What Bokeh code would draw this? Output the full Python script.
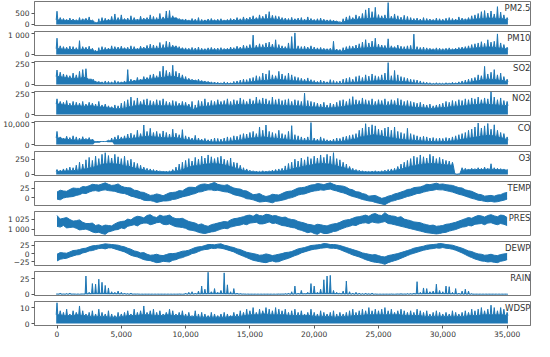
from bokeh.plotting import figure
from bokeh.layouts import column
from bokeh.models import Range1d, Label, FixedTicker
from bokeh.embed import file_html
from bokeh.resources import INLINE

# ---------------- data (hourly index) ----------------
HOURS_FINE = list(range(0, 35001, 250))     # every 250 h
HOURS_COARSE = list(range(0, 35001, 500))   # every 500 h

PM25_PEAK = [580, 300, 260, 220, 280, 240, 210, 300, 250, 270,
             330, 190, 90, 250, 300, 270, 230, 350, 460, 300,
             420, 260, 280, 380, 300, 240, 360, 280, 300, 420,
             350, 300, 480, 330, 590, 610, 380, 300, 260, 220,
             240, 200, 260, 230, 300, 220, 200, 240, 260, 210,
             230, 250, 200, 220, 260, 240, 300, 250, 330, 280,
             320, 380, 300, 420, 360, 450, 560, 400, 380, 350,
             300, 280, 260, 310, 250, 280, 300, 240, 330, 260,
             220, 250, 280, 230, 200, 210, 190, 150, 130, 250,
             330, 380, 300, 420, 360, 480, 640, 720, 560, 750,
             430, 380, 420, 957, 360, 460, 380, 320, 400, 350,
             300, 260, 280, 240, 300, 260, 240, 220, 280, 250,
             230, 270, 300, 260, 240, 330, 280, 250, 300, 380,
             420, 480, 560, 610, 500, 590, 460, 780, 540, 420,
             300]
PM25_LEVEL = [200, 180, 170, 160, 190, 170, 80, 150, 180, 190,
              200, 180, 190, 200, 210, 200, 230, 260, 280, 200,
              160, 150, 140, 150, 160, 150, 160, 170, 180, 190,
              210, 230, 240, 250, 220, 190, 170, 180, 160, 170,
              150, 150, 140, 130, 90, 180, 220, 240, 260, 280,
              260, 250, 240, 200, 180, 170, 160, 150, 160, 150,
              150, 160, 170, 190, 200, 240, 260, 280, 270, 250,
              200]

PM10_PEAK = [790, 420, 380, 350, 400, 380, 330, 670, 380, 350,
             400, 300, 200, 330, 380, 340, 310, 420, 380, 360,
             400, 330, 350, 420, 380, 300, 400, 360, 440, 500,
             460, 420, 580, 480, 640, 600, 450, 420, 380, 330,
             320, 300, 340, 310, 360, 300, 280, 320, 340, 300,
             310, 330, 290, 300, 360, 330, 400, 360, 450, 420,
             480, 940, 450, 520, 480, 560, 600, 500, 715, 480,
             420, 380, 560, 870, 1050, 420, 380, 400, 360, 420,
             360, 320, 340, 300, 280, 300, 640, 260, 240, 330,
             380, 420, 400, 460, 520, 600, 720, 560, 650, 790,
             500, 460, 440, 760, 420, 380, 460, 400, 380, 420,
             440, 990, 380, 340, 360, 320, 300, 280, 320, 300,
             280, 300, 320, 280, 300, 340, 360, 380, 420, 480,
             520, 560, 620, 540, 715, 600, 640, 1000, 560, 480,
             350]
PM10_LEVEL = [280, 250, 240, 230, 250, 230, 140, 220, 240, 250,
              260, 240, 250, 270, 280, 280, 300, 330, 350, 260,
              220, 210, 200, 210, 220, 210, 230, 240, 260, 270,
              300, 320, 330, 340, 300, 280, 260, 260, 240, 250,
              230, 220, 210, 200, 160, 240, 280, 300, 330, 350,
              320, 300, 300, 260, 240, 230, 220, 210, 220, 210,
              210, 220, 240, 260, 280, 320, 340, 360, 340, 300,
              250]

SO2_PEAK = [165, 140, 120, 110, 100, 130, 110, 150, 170, 180,
            60, 45, 40, 35, 30, 40, 35, 30, 45, 35,
            30, 40, 170, 60, 50, 80, 60, 90, 80, 110,
            120, 100, 150, 210, 160, 140, 220, 150, 130, 110,
            90, 70, 60, 50, 60, 45, 40, 35, 30, 28,
            25, 20, 30, 25, 20, 35, 40, 50, 60, 55,
            70, 80, 100, 90, 130, 120, 160, 110, 100, 150,
            120, 100, 130, 110, 90, 80, 70, 60, 75, 55,
            45, 35, 50, 40, 30, 55, 45, 35, 40, 60,
            70, 80, 60, 90, 100, 80, 110, 95, 120, 100,
            90, 110, 130, 250, 100, 160, 110, 90, 80, 70,
            60, 55, 50, 40, 30, 25, 20, 15, 20, 18,
            15, 20, 18, 25, 20, 30, 40, 50, 60, 70,
            80, 110, 100, 207, 120, 140, 170, 110, 130, 90,
            60]
SO2_LEVEL = [90, 80, 70, 70, 80, 60, 25, 15, 15, 15,
             20, 30, 40, 50, 60, 70, 80, 90, 90, 70,
             50, 45, 35, 25, 15, 10, 8, 10, 15, 20,
             30, 40, 45, 55, 60, 50, 45, 40, 35, 30,
             20, 15, 15, 12, 12, 20, 25, 30, 35, 40,
             45, 45, 40, 35, 30, 20, 12, 8, 6, 6,
             6, 8, 10, 15, 25, 40, 55, 60, 55, 45,
             30]

NO2_PEAK = [180, 150, 140, 160, 130, 150, 140, 130, 150, 120,
            140, 130, 120, 150, 110, 120, 100, 90, 110, 100,
            130, 150, 170, 200, 160, 190, 150, 170, 180, 160,
            150, 170, 160, 180, 150, 140, 160, 150, 130, 150,
            140, 120, 150, 110, 160, 150, 180, 140, 160, 150,
            170, 150, 160, 180, 150, 170, 160, 190, 170, 150,
            180, 160, 200, 170, 190, 180, 160, 200, 170, 180,
            160, 170, 180, 150, 170, 160, 150, 245, 160, 150,
            140, 130, 120, 140, 110, 130, 120, 140, 160, 170,
            150, 180, 205, 170, 160, 190, 170, 160, 180, 150,
            170, 160, 180, 150, 170, 160, 185, 170, 150, 160,
            150, 140, 130, 140, 120, 110, 120, 100, 110, 120,
            130, 150, 140, 160, 150, 170, 160, 180, 170, 190,
            180, 200, 170, 190, 180, 260, 200, 170, 190, 160,
            150]
NO2_LEVEL = [120, 110, 100, 100, 95, 100, 90, 85, 75, 65,
             70, 90, 100, 110, 100, 105, 100, 100, 95, 100,
             95, 60, 90, 95, 100, 110, 110, 105, 115, 110,
             115, 120, 115, 110, 110, 105, 100, 100, 95, 90,
             85, 80, 75, 80, 90, 100, 110, 115, 110, 105,
             110, 105, 110, 100, 95, 85, 80, 75, 70, 75,
             80, 90, 95, 100, 110, 115, 120, 115, 110, 105,
             100]

CO_PEAK = [6000, 3500, 3000, 3800, 3200, 4000, 3500, 3000, 3600, 2800,
           3200, 2500, 1400, 1400, 1400, 1400, 2000, 3000, 3500, 4200,
           3500, 4000, 4800, 5200, 4500, 6500, 5000, 8900, 6000, 7400,
           5500, 6000, 5000, 6200, 5500, 4800, 7000, 5200, 4500, 6800,
           4000, 3500, 3000, 4200, 3000, 2500, 2800, 2200, 2500, 3000,
           2800, 2500, 3000, 3500, 3200, 4000, 3800, 4500, 5000, 4800,
           5500, 6000, 5000, 8000, 6500, 8900, 6000, 5500, 5000, 6500,
           5000, 4500, 6000, 8600, 4500, 4000, 3500, 3000, 3500, 10000,
           3000, 2500, 3500, 2800, 2200, 2000, 2500, 3000, 2800, 3500,
           3800, 4200, 4500, 5000, 6500, 7500, 9500, 8000, 9000, 8500,
           7000, 6500, 7500, 8000, 6500, 8000, 6000, 5500, 5000, 7400,
           5000, 4500, 4000, 3500, 3800, 3500, 3000, 3200, 2800, 3000,
           2800, 3200, 3000, 3500, 4000, 4500, 5000, 5500, 6500, 7000,
           8000, 9800, 7500, 8500, 9600, 7000, 9000, 6500, 5500, 5000,
           3500]
CO_LEVEL = [3000, 2500, 2200, 2000, 2300, 2100, 1400, 1400, 1800, 2200,
            2500, 2800, 3000, 3500, 3800, 3500, 3200, 3000, 3200, 2800,
            2200, 2000, 1800, 1500, 1200, 1200, 1300, 1600, 2000, 2500,
            3000, 3200, 3500, 3000, 2800, 2500, 2200, 2000, 1800, 1800,
            1600, 1500, 1400, 1300, 1500, 2000, 2500, 3500, 4000, 4500,
            4000, 3500, 3000, 2500, 2200, 2000, 1800, 1500, 1400, 1300,
            1400, 1600, 2000, 2500, 3000, 3500, 4000, 4200, 3800, 3000,
            2000]
CO_LOW = [100, 100, 100, 100, 100, 100, 800, 1300, 1100, 100,
          100, 100, 100, 100, 100, 100, 100, 100, 100, 100,
          100, 100, 100, 100, 100, 100, 100, 100, 100, 100,
          100, 100, 100, 100, 100, 100, 100, 100, 100, 100,
          100, 100, 100, 100, 100, 100, 100, 100, 100, 100,
          100, 100, 100, 100, 100, 100, 100, 100, 100, 100,
          100, 100, 100, 100, 100, 100, 100, 100, 100, 100,
          100]

O3_PEAK = [80, 70, 90, 100, 120, 110, 150, 200, 170, 240,
           280, 230, 300, 260, 330, 357, 310, 270, 330, 290,
           260, 300, 230, 250, 200, 180, 150, 120, 100, 90,
           80, 70, 60, 50, 55, 60, 80, 120, 170, 200,
           230, 260, 220, 280, 250, 300, 270, 320, 290, 260,
           280, 300, 250, 230, 270, 200, 190, 150, 110, 90,
           70, 60, 55, 50, 60, 55, 60, 70, 80, 90,
           100, 140, 180, 200, 250, 220, 270, 240, 290, 260,
           300, 270, 320, 280, 330, 300, 357, 260, 240, 200,
           170, 130, 100, 80, 70, 60, 55, 50, 55, 60,
           55, 60, 70, 80, 90, 100, 130, 170, 200, 230,
           260, 300, 280, 320, 290, 270, 330, 300, 260, 280,
           250, 230, 220, 200, 10, 10, 110, 100, 90, 100,
           95, 110, 100, 120, 100, 175, 110, 100, 95, 90,
           80]
O3_LEVEL = [50, 55, 60, 70, 90, 110, 140, 170, 180, 170,
            150, 130, 100, 80, 60, 50, 45, 40, 50, 70,
            110, 140, 150, 170, 180, 170, 150, 120, 90, 60,
            45, 40, 40, 45, 50, 60, 80, 110, 130, 150,
            170, 180, 170, 150, 120, 90, 60, 45, 40, 40,
            40, 45, 55, 80, 110, 140, 160, 170, 180, 170,
            160, 150, 5, 70, 75, 80, 80, 85, 80, 75,
            70]

TEMP_HIGH = [15, 20, 18, 17, 22, 26, 25, 25, 30, 29, 32, 36, 35, 34, 37, 40, 36, 33, 34, 37,
             31, 28, 27, 26, 20, 19, 15, 14, 10, 6, 7, 10, 8, 5, 9, 13, 14, 15, 19, 18,
             24, 28, 28, 27, 33, 36, 37, 35, 38, 41, 36, 34, 33, 35, 30, 26, 24, 23, 19, 18,
             13, 8, 9, 11, 6, 3, 5, 9, 8, 7, 11, 15, 17, 18, 22, 26, 27, 28, 31, 34,
             35, 38, 37, 35, 38, 40, 36, 33, 32, 31, 28, 23, 21, 16, 15, 11, 9, 4, 5, 6,
             2, -2, 0, 4, 6, 10, 12, 15, 18, 22, 23, 27, 28, 29, 32, 36, 35, 37, 39, 36,
             37, 35, 34, 33, 30, 27, 26, 21, 19, 17, 13, 9, 8, 4, 5, 6, 4, 7, 8, 12,
             14]
TEMP_LOW = [-4, -6, -1, 1, 2, 3, 6, 8, 12, 11, 15, 18, 19, 17, 20, 21, 19, 18, 17, 14,
            12, 11, 8, 4, 2, -1, -3, -7, -8, -8, -10, -13, -11, -9, -9, -8, -5, -4, -1, 2,
            4, 6, 9, 11, 15, 16, 19, 21, 21, 19, 20, 18, 16, 15, 12, 8, 6, 4, 1, -3,
            -4, -6, -9, -12, -11, -10, -12, -14, -10, -9, -7, -5, -2, 0, 3, 7, 9, 10, 13, 16,
            18, 19, 21, 20, 22, 23, 20, 18, 15, 13, 10, 6, 3, 1, -2, -5, -7, -9, -10, -13,
            -15, -17, -19, -14, -10, -8, -5, -3, 0, 3, 5, 8, 11, 12, 15, 17, 19, 20, 22, 21,
            21, 19, 17, 15, 12, 9, 7, 4, 1, -2, -4, -7, -8, -10, -11, -10, -12, -11, -9, -7,
            -4]

PRES_HIGH = [1035, 1026, 1028, 1030, 1025, 1021, 1022, 1024, 1018, 1015, 1015, 1016, 1010, 1012, 1008, 1011, 1010, 1009, 1014, 1018,
             1020, 1021, 1026, 1024, 1030, 1033, 1032, 1029, 1035, 1037, 1032, 1030, 1036, 1033, 1034, 1036, 1030, 1027, 1027, 1028,
             1024, 1020, 1018, 1016, 1012, 1014, 1010, 1008, 1012, 1014, 1016, 1018, 1020, 1019, 1024, 1027, 1028, 1030, 1032, 1035,
             1036, 1033, 1038, 1035, 1034, 1038, 1037, 1034, 1035, 1032, 1030, 1031, 1027, 1025, 1024, 1020, 1018, 1016, 1013, 1012,
             1010, 1013, 1012, 1010, 1009, 1012, 1014, 1015, 1018, 1022, 1024, 1025, 1028, 1031, 1032, 1034, 1036, 1033, 1038, 1040,
             1036, 1035, 1042, 1036, 1034, 1033, 1030, 1032, 1026, 1024, 1022, 1019, 1018, 1017, 1014, 1012, 1010, 1011, 1008, 1009,
             1010, 1013, 1014, 1016, 1018, 1021, 1024, 1027, 1030, 1028, 1032, 1035, 1034, 1031, 1035, 1037, 1034, 1032, 1036, 1035,
             1030]
PRES_LOW = [1008, 1006, 1010, 1004, 1005, 1006, 1003, 999, 1000, 1001, 998, 994, 992, 993, 990, 988, 994, 996, 999, 1000,
            1004, 1002, 1008, 1010, 1012, 1009, 1014, 1016, 1016, 1012, 1014, 1017, 1018, 1013, 1012, 1014, 1010, 1007, 1006, 1005,
            1003, 999, 998, 996, 993, 991, 990, 992, 994, 995, 998, 1001, 1003, 1002, 1006, 1008, 1010, 1011, 1014, 1012,
            1016, 1017, 1018, 1014, 1014, 1016, 1019, 1015, 1016, 1013, 1010, 1009, 1007, 1005, 1004, 1000, 998, 995, 992, 994,
            990, 988, 993, 990, 990, 992, 995, 996, 1000, 1003, 1006, 1008, 1011, 1010, 1014, 1016, 1017, 1015, 1019, 1017,
            1016, 1018, 1020, 1015, 1014, 1012, 1010, 1008, 1006, 1004, 1002, 1000, 998, 996, 994, 992, 991, 990, 989, 990,
            992, 993, 996, 998, 1000, 1003, 1006, 1007, 1010, 1009, 1013, 1014, 1015, 1012, 1016, 1017, 1014, 1012, 1015, 1013,
            1010]

DEWP_HIGH = [-2, 3, 2, 1, 5, 9, 10, 12, 15, 16, 20, 23, 24, 25, 27, 29, 28, 27, 26, 25,
             22, 20, 16, 13, 8, 6, 2, 3, -2, -5, -4, -2, -5, -6, -3, 0, 0, 1, 4, 7,
             8, 10, 14, 18, 20, 21, 24, 27, 27, 26, 28, 29, 25, 23, 20, 18, 14, 12, 8, 4,
             2, 0, -2, -5, -4, -1, -3, -6, -4, -2, 0, 3, 4, 6, 10, 14, 16, 18, 21, 24,
             25, 26, 27, 30, 29, 27, 27, 26, 24, 21, 18, 15, 12, 9, 6, 2, 0, -2, -4, -3,
             -6, -9, -10, -6, -4, -2, 0, 3, 6, 9, 12, 16, 18, 20, 22, 25, 26, 27, 28, 30,
             29, 27, 26, 25, 22, 19, 16, 12, 8, 6, 2, -1, -2, -5, -4, -2, -5, -6, -3, -1,
             0]
DEWP_LOW = [-22, -17, -15, -14, -10, -7, -4, -3, 2, 4, 8, 9, 12, 15, 16, 14, 17, 17, 14, 11,
            8, 5, 0, -5, -8, -10, -14, -18, -20, -21, -24, -27, -26, -23, -24, -25, -20, -18, -14, -12,
            -8, -5, 0, 2, 6, 10, 12, 13, 16, 15, 17, 16, 14, 11, 8, 5, 0, -4, -8, -12,
            -16, -20, -22, -24, -26, -27, -24, -22, -25, -24, -20, -17, -14, -10, -6, -3, 2, 5, 8, 11,
            13, 14, 16, 17, 18, 16, 16, 15, 12, 8, 4, 0, -4, -7, -10, -14, -18, -21, -24, -26,
            -27, -29, -32, -27, -24, -21, -18, -14, -10, -6, -2, 1, 4, 7, 10, 12, 14, 15, 17, 16,
            18, 16, 15, 13, 10, 6, 2, -3, -8, -12, -16, -19, -22, -23, -25, -24, -26, -27, -23, -21,
            -18]

RAIN_PEAK = [0.5, 2, 0.5, 1, 2, 0.5, 0, 0, 0.5, 29,
             3, 17, 16, 24, 19, 14, 10, 4, 3, 5,
             3, 2, 1, 2, 0.5, 0.5, 0, 0, 0, 0,
             0, 0, 0, 0, 0, 0, 0, 0, 0.5, 0,
             2, 3, 4, 2, 5, 13, 8, 35, 4, 9,
             3, 6, 34, 15, 4, 9, 2, 1, 0.5, 0,
             0, 0, 0, 0, 0, 0, 0, 0, 0, 0.5,
             0.5, 1, 2, 4, 13, 2, 6, 1, 3, 17,
             13, 3, 8, 23, 29, 30, 6, 3, 2, 5,
             21, 4, 2, 3, 2, 1, 2, 1, 2, 0.5,
             0, 0, 0, 0, 0.5, 0, 0.5, 1, 0.5, 1,
             1, 2, 20, 3, 10, 9, 4, 5, 16, 6,
             4, 13, 12, 3, 9, 2, 5, 8, 5, 1,
             0, 0, 0, 0, 0, 0, 0, 0, 0, 0,
             0]
RAIN_LEVEL = [0.3, 0.3, 0.3, 0.3, 0.5, 1, 1.5, 1.5, 1, 0.8,
              0.5, 0.3, 0.3, 0.2, 0.2, 0.2, 0.2, 0.2, 0.2, 0.2,
              0.3, 0.5, 0.8, 1, 1.5, 1.5, 1, 0.8, 0.5, 0.3,
              0.2, 0.2, 0.2, 0.2, 0.2, 0.3, 0.3, 0.5, 0.8, 1,
              1.5, 1.5, 1.5, 1, 0.8, 0.5, 0.3, 0.3, 0.2, 0.2,
              0.2, 0.2, 0.2, 0.3, 0.3, 0.5, 0.8, 1, 1.5, 1.5,
              1, 0.8, 0.5, 0.3, 0.2, 0.2, 0.2, 0.2, 0.2, 0.2,
              0.2]

WDSP_PEAK = [13, 8, 7, 9, 6, 8, 7, 11, 8, 6,
             7, 8, 6, 9, 7, 6, 8, 6, 5, 7,
             6, 7, 8, 6, 9, 7, 8, 11, 7, 8,
             9, 7, 8, 6, 7, 9, 8, 6, 7, 8,
             6, 7, 5, 8, 6, 7, 6, 5, 7, 6,
             5, 6, 7, 6, 5, 7, 6, 8, 7, 9,
             8, 10, 7, 9, 8, 10, 9, 8, 10, 9,
             8, 9, 7, 8, 9, 7, 8, 6, 7, 9,
             7, 6, 8, 7, 6, 7, 8, 6, 7, 6,
             7, 8, 9, 7, 8, 9, 8, 10, 8, 9,
             8, 9, 10, 8, 9, 7, 8, 9, 8, 7,
             8, 7, 9, 8, 7, 8, 6, 7, 8, 7,
             6, 7, 6, 8, 7, 6, 7, 8, 7, 9,
             8, 9, 10, 8, 9, 11.5, 10, 8, 10, 9,
             7]
WDSP_LEVEL = [5.5, 5, 5, 5.5, 5, 4.5, 4.5, 4.5, 4, 4,
              4.5, 5, 5, 5.5, 5.5, 5, 5, 5.5, 5, 5,
              4.5, 4.5, 4, 4, 4, 4, 4, 4.5, 4.5, 5,
              5.5, 5.5, 6, 5.5, 5.5, 5.5, 5, 5, 5, 5,
              4.5, 4.5, 4.5, 4, 4.5, 4.5, 5, 5, 5.5, 5.5,
              5.5, 5.5, 5.5, 5.5, 5, 5, 5, 4.5, 4.5, 4.5,
              4.5, 4.5, 4.5, 4.5, 5, 5, 5.5, 5.5, 5.5, 5.5,
              5]

SERIES_NAMES = ["PM2.5", "PM10", "SO2", "NO2", "CO", "O3",
                "TEMP", "PRES", "DEWP", "RAIN", "WDSP"]

X_TICKS = [0, 5000, 10000, 15000, 20000, 25000, 30000, 35000]
X_TICK_LABELS = ["0", "5,000", "10,000", "15,000", "20,000", "25,000", "30,000", "35,000"]

Y_TICKS = {
    "PM2.5": ([0, 500], ["0", "500"]),
    "PM10": ([0, 1000], ["0", "1 000"]),
    "SO2": ([0, 250], ["0", "250"]),
    "NO2": ([0, 250], ["0", "250"]),
    "CO": ([0, 10000], ["0", "10,000"]),
    "O3": ([0, 250], ["0", "250"]),
    "TEMP": ([0, 25], ["0", "25"]),
    "PRES": ([1000, 1025], ["1 000", "1 025"]),
    "DEWP": ([-25, 0, 25], ["\u221225", "0", "25"]),
    "RAIN": ([0, 25], ["0", "25"]),
    "WDSP": ([0, 10], ["0", "10"]),
}

# ---------------- layout / style ----------------
Y_LIMITS = {
    "PM2.5": (-45, 1006), "PM10": (-52, 1118), "SO2": (-12, 263),
    "NO2": (-11, 264), "CO": (-395, 10495), "O3": (-18, 377),
    "TEMP": (-21.3, 43.6), "PRES": (985, 1045), "DEWP": (-35.5, 36),
    "RAIN": (-2, 36.2), "WDSP": (-1.2, 13.8),
}
X_START, X_END = -1750, 36820
SPIKE_HALF_WIDTH = 62   # hours either side of a spike's tip
BLUE = "#1f77b4"
FRAME = "#777777"
TEXT = "#333333"

spiky = {
    "PM2.5": (PM25_PEAK, PM25_LEVEL, None),
    "PM10": (PM10_PEAK, PM10_LEVEL, None),
    "SO2": (SO2_PEAK, SO2_LEVEL, None),
    "NO2": (NO2_PEAK, NO2_LEVEL, None),
    "CO": (CO_PEAK, CO_LEVEL, CO_LOW),
    "O3": (O3_PEAK, O3_LEVEL, None),
    "RAIN": (RAIN_PEAK, RAIN_LEVEL, None),
    "WDSP": (WDSP_PEAK, WDSP_LEVEL, None),
}
bands = {
    "TEMP": (TEMP_LOW, TEMP_HIGH),
    "PRES": (PRES_LOW, PRES_HIGH),
    "DEWP": (DEWP_LOW, DEWP_HIGH),
}


def spikes(peak, level, low):
    """Each fine peak becomes a thin spike rising from its bin's body level."""
    xs, ys, ls = [], [], []
    for i, h in enumerate(HOURS_FINE):
        j = min(i // 2, len(level) - 1)
        base = low[j] if low is not None else 0
        for dx, y in ((-SPIKE_HALF_WIDTH, level[j]), (0, peak[i]), (SPIKE_HALF_WIDTH, level[j])):
            xs.append(h + dx)
            ys.append(y)
            ls.append(base)
    return xs, ys, ls


x_range = Range1d(X_START, X_END)
figs = []
n = len(SERIES_NAMES)
for i, name in enumerate(SERIES_NAMES):
    last = (i == n - 1)
    y0, y1 = Y_LIMITS[name]
    p = figure(frame_width=496, frame_height=24,
               x_range=x_range, y_range=Range1d(y0, y1),
               output_backend="svg", toolbar_location=None,
               x_axis_location="below" if last else None,
               min_border_left=34, min_border_right=4,
               min_border_top=1, min_border_bottom=0 if last else 5)
    p.grid.visible = False
    p.outline_line_color = FRAME
    p.outline_line_width = 1
    p.outline_line_alpha = 1
    p.background_fill_color = "white"
    p.border_fill_color = "white"

    if name in spiky:
        peak, level, low = spiky[name]
        xs, ys, ls = spikes(peak, level, low)
        p.varea(x=xs, y1=ls, y2=ys, fill_color=BLUE)
        p.line(xs, ys, line_color=BLUE, line_width=1)
    else:
        low, high = bands[name]
        p.varea(x=HOURS_FINE, y1=low, y2=high, fill_color=BLUE)
        p.line(HOURS_FINE, high, line_color=BLUE, line_width=1)
        p.line(HOURS_FINE, low, line_color=BLUE, line_width=1)

    ticks, labels = Y_TICKS[name]
    ax = p.yaxis[0]
    ax.ticker = FixedTicker(ticks=ticks)
    ax.major_label_overrides = {t: l for t, l in zip(ticks, labels)}
    ax.minor_tick_line_color = None
    ax.major_tick_in = 0
    ax.major_tick_out = 3
    ax.major_label_standoff = 2
    ax.axis_line_color = FRAME
    ax.major_tick_line_color = "#555555"
    ax.major_label_text_font = "DejaVu Sans"
    ax.major_label_text_font_size = "7.5px"
    ax.major_label_text_color = TEXT

    if last:
        xa = p.xaxis[0]
        xa.ticker = FixedTicker(ticks=X_TICKS)
        xa.major_label_overrides = {t: l for t, l in zip(X_TICKS, X_TICK_LABELS)}
        xa.minor_tick_line_color = None
        xa.major_tick_in = 0
        xa.major_tick_out = 3
        xa.major_label_standoff = 2
        xa.axis_line_color = FRAME
        xa.major_tick_line_color = "#555555"
        xa.major_label_text_font = "DejaVu Sans"
        xa.major_label_text_font_size = "7.5px"
        xa.major_label_text_color = TEXT

    p.add_layout(Label(x=X_END, y=y1, text=name, text_align="right",
                       text_baseline="top", y_offset=-1,
                       text_font="DejaVu Sans", text_font_size="8.5px",
                       text_color=TEXT))
    figs.append(p)

layout = column(*figs, spacing=0)
open("out.html", "w").write(file_html(layout, INLINE, title="Air quality"))
